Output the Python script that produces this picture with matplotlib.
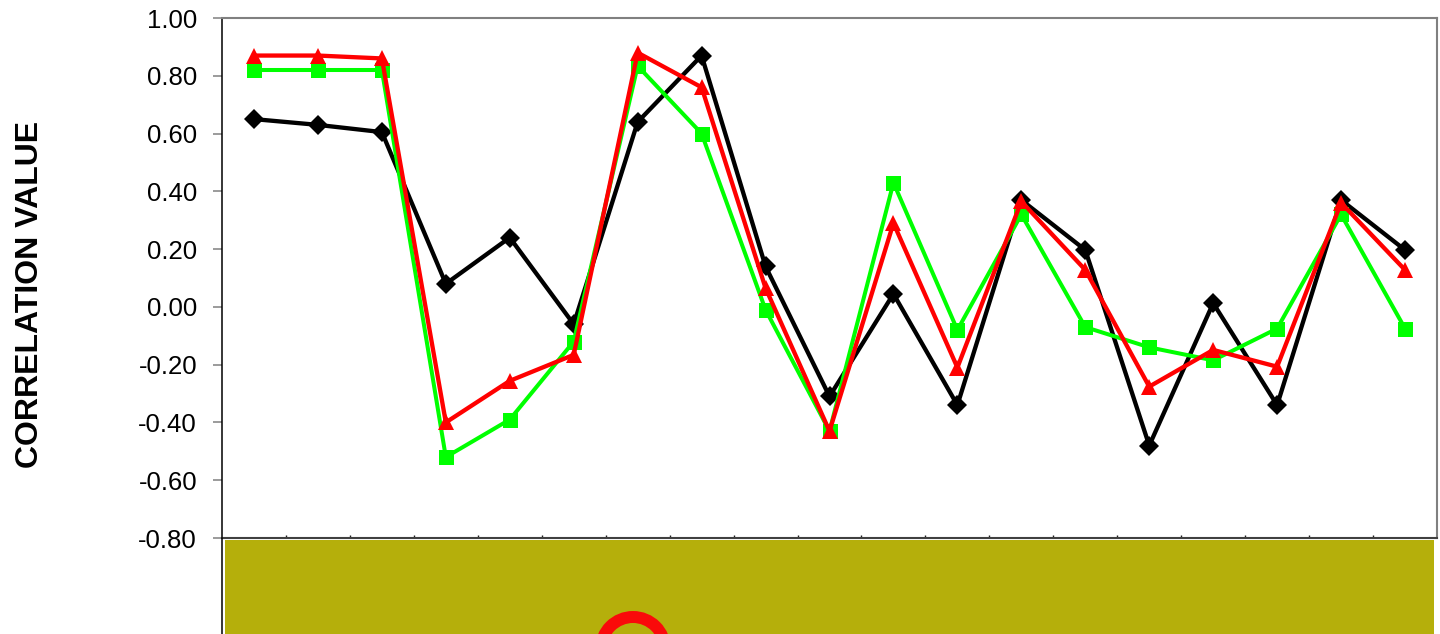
import matplotlib
matplotlib.use("Agg")
import matplotlib.pyplot as plt
from matplotlib.patches import Rectangle, Ellipse
from matplotlib.lines import Line2D
import numpy as np

plt.rcParams['font.family'] = ['Liberation Sans', 'DejaVu Sans']

# Correlation values for the 19 positions
series_black = [0.65, 0.63, 0.605, 0.08, 0.24, -0.06, 0.64, 0.87, 0.14, -0.31,
                0.045, -0.34, 0.37, 0.197, -0.48, 0.013, -0.34, 0.37, 0.197]
series_green = [0.82, 0.82, 0.82, -0.52, -0.39, -0.12, 0.834, 0.60, -0.01, -0.43,
                0.43, -0.08, 0.32, -0.07, -0.14, -0.185, -0.075, 0.32, -0.075]
series_red = [0.87, 0.87, 0.86, -0.40, -0.256, -0.166, 0.88, 0.76, 0.065, -0.43,
              0.29, -0.21, 0.365, 0.128, -0.276, -0.149, -0.207, 0.36, 0.128]
y_ticks = [-0.80, -0.60, -0.40, -0.20, 0.00, 0.20, 0.40, 0.60, 0.80, 1.00]
y_label = "CORRELATION VALUE"

W, H = 1440, 634
fig = plt.figure(figsize=(W / 100, H / 100), dpi=100)
fig.patch.set_facecolor('white')

left_px, right_px, top_px, bottom_px = 222, 1437, 18, 538
ax = fig.add_axes([left_px / W, 1 - bottom_px / H,
                   (right_px - left_px) / W, (bottom_px - top_px) / H])

x = np.arange(len(series_black))
ax.plot(x, series_black, color='black', lw=3.1, marker='D', ms=10,
        mew=0, zorder=3)
ax.plot(x, series_green, color='#00FF00', lw=2.9, marker='s', ms=10.8,
        mew=0, zorder=4)
ax.plot(x, series_red, color='#FF0000', lw=3.1, marker='^', ms=12,
        mew=0, zorder=5)

ax.set_xlim(-0.5, len(x) - 0.5)
ax.set_ylim(-0.80, 1.00)
ax.set_yticks(y_ticks)
ax.set_yticklabels([f"{v:.2f}" for v in y_ticks], fontsize=18.5)
ax.tick_params(axis='y', direction='out', length=6.5, width=1.1,
               color='#808080', pad=11.5)
ax.set_xticks(np.arange(0.5, len(x) - 0.5, 1.0))
ax.set_xticklabels([])
ax.tick_params(axis='x', direction='in', length=2.5, width=1.0, color='#202020')

for side in ('top', 'right'):
    ax.spines[side].set_color('#808080')
    ax.spines[side].set_linewidth(1.5)
ax.spines['left'].set_color('black')
ax.spines['left'].set_linewidth(1.1)
ax.spines['bottom'].set_color('#404040')
ax.spines['bottom'].set_linewidth(1.5)

fig.text(30 / W, 1 - 294 / H, y_label, rotation=90, fontsize=23,
         fontweight='bold', ha='center', va='center')

# Panel below the plot area
fig.patches.append(Rectangle((225 / W, 0), (1434 - 225) / W, (H - 540) / H,
                             transform=fig.transFigure, facecolor='#B5AF0B',
                             edgecolor='none', zorder=1))
ring_r = 32
fig.patches.append(Ellipse((633 / W, (H - 649) / H), 2 * ring_r / W, 2 * ring_r / H,
                           transform=fig.transFigure, facecolor='none',
                           edgecolor='#FA0A0A', linewidth=8.6, zorder=2))
fig.lines.append(Line2D([left_px / W, left_px / W], [0, 1 - bottom_px / H],
                        transform=fig.transFigure, color='black', lw=1.1))

fig.savefig("out.png", dpi=100)
